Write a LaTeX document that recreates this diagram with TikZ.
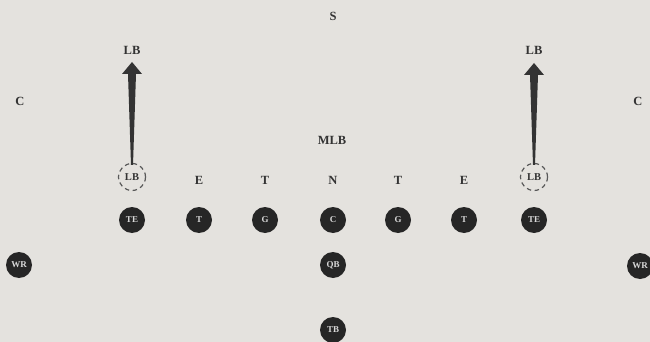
\documentclass[tikz,border=0pt]{standalone}
\usepackage{fontspec}
\setmainfont{Liberation Serif}
\definecolor{paper}{RGB}{228,226,222}
\begin{document}
\begin{tikzpicture}[x=1pt,y=-1pt,
  lbl/.style={font=\bfseries\fontsize{12.5}{13}\selectfont, text=black!80, inner sep=0pt},
  player/.style={circle, fill=black!85, minimum size=26pt, inner sep=0pt, text=black!15, font=\bfseries\fontsize{9}{9}\selectfont},
  ghost/.style={circle, draw=black!65, dash pattern=on 4.5pt off 3.5pt, line width=1.2pt, minimum size=27pt, inner sep=0pt, text=black!80, font=\bfseries\fontsize{10.5}{11}\selectfont},
  rush/.style={fill=black!80}]
\fill[paper] (0,0) rectangle (650,342);
\useasboundingbox (0,0) rectangle (650,342);
% labels
\node[lbl] (s) at (333,16) {S};
\node[lbl] (lbl1) at (132,50) {LB};
\node[lbl] (lbl2) at (534,50) {LB};
\node[lbl] (c1) at (20,101) {C};
\node[lbl] (c2) at (638,101) {C};
\node[lbl] (mlb) at (332,140) {MLB};
\node[lbl] (e1) at (199,180) {E};
\node[lbl] (t1) at (265,180) {T};
\node[lbl] (n) at (333,180) {N};
\node[lbl] (t2) at (398,180) {T};
\node[lbl] (e2) at (464,180) {E};
% dashed linebackers
\node[ghost] (lb1) at (132,177) {LB};
\node[ghost] (lb2) at (534,177) {LB};
% arrows
\coordinate (a1) at (lb1.north);
\coordinate (a2) at (lb2.north);
\fill[rush] ([xshift=-1pt,yshift=-2pt]a1) -- ([xshift=-4pt]132,74) -- ([xshift=-10pt]132,74) -- (132,62) -- ([xshift=10pt]132,74) -- ([xshift=4pt]132,74) -- ([xshift=1pt,yshift=-2pt]a1) -- cycle;
\fill[rush] ([xshift=-1pt,yshift=-2pt]a2) -- ([xshift=-4pt]534,75) -- ([xshift=-10pt]534,75) -- (534,63) -- ([xshift=10pt]534,75) -- ([xshift=4pt]534,75) -- ([xshift=1pt,yshift=-2pt]a2) -- cycle;
% offense
\node[player] (te1) at (132,220) {TE};
\node[player] (tk1) at (199,220) {T};
\node[player] (g1) at (265,220) {G};
\node[player] (ce) at (333,220) {C};
\node[player] (g2) at (398,220) {G};
\node[player] (tk2) at (464,220) {T};
\node[player] (te2) at (534,220) {TE};
\node[player] (wr1) at (19,265) {WR};
\node[player] (qb) at (333,265) {QB};
\node[player] (wr2) at (640,266) {WR};
\node[player] (tb) at (333,330) {TB};
\end{tikzpicture}
\end{document}
